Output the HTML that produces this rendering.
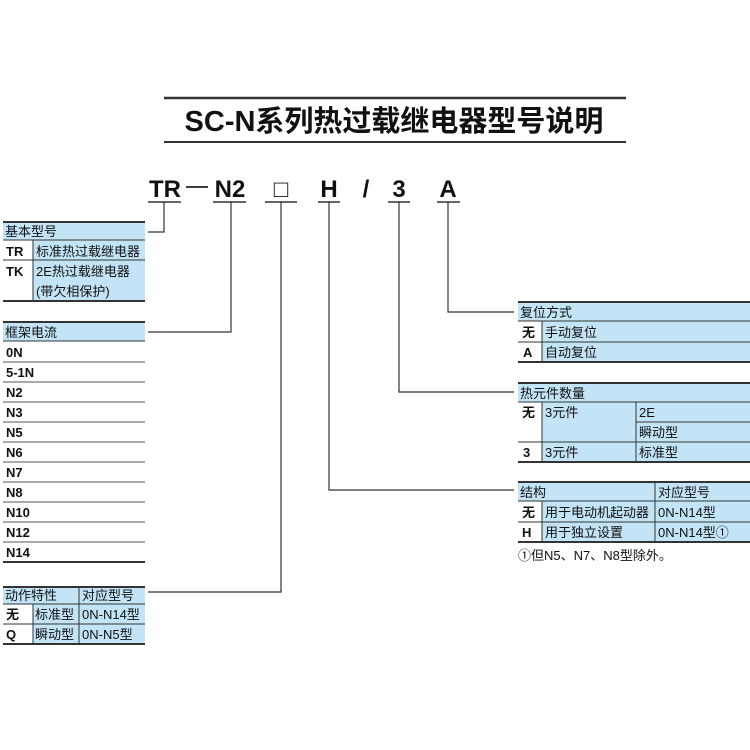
<!DOCTYPE html>
<html><head><meta charset="utf-8"><style>
html,body{margin:0;padding:0;background:#fff;width:750px;height:750px;overflow:hidden}
svg text{font-family:"Liberation Sans","Noto Sans CJK SC",sans-serif;fill:#111}
</style></head><body>
<svg width="750" height="750" viewBox="0 0 750 750" xmlns="http://www.w3.org/2000/svg">
<rect width="750" height="750" fill="#fff"/>
<!-- title -->
<line x1="164" y1="98" x2="626" y2="98" stroke="#333" stroke-width="2.5"/>
<line x1="164" y1="142" x2="626" y2="142" stroke="#333" stroke-width="2"/>
<text x="394" y="131" font-size="29" font-weight="bold" text-anchor="middle">SC-N系列热过载继电器型号说明</text>
<!-- code row -->
<g font-size="24" font-weight="bold" text-anchor="middle">
<text x="165" y="197">TR</text>
<text x="230" y="197">N2</text>
<text x="281" y="197" font-weight="normal">□</text>
<text x="329" y="197">H</text>
<text x="366" y="197">/</text>
<text x="399" y="197">3</text>
<text x="448" y="197">A</text>
</g>
<line x1="186" y1="187" x2="208" y2="187" stroke="#222" stroke-width="1.8"/>
<g stroke="#333" stroke-width="1.5">
<line x1="148" y1="202" x2="181" y2="202"/>
<line x1="213" y1="202" x2="246" y2="202"/>
<line x1="265" y1="202" x2="297" y2="202"/>
<line x1="318" y1="202" x2="340" y2="202"/>
<line x1="388" y1="202" x2="410" y2="202"/>
<line x1="437" y1="202" x2="460" y2="202"/>
</g>
<g stroke="#333" stroke-width="1.2" fill="none">
<polyline points="164,202 164,232 148,232"/>
<polyline points="231,202 231,332 148,332"/>
<polyline points="281,202 281,592 148,592"/>
<polyline points="329,202 329,490 514,490"/>
<polyline points="399,202 399,392 514,392"/>
<polyline points="448,202 448,312 514,312"/>
</g>

<!-- Box 1 -->
<rect x="3" y="222" width="142" height="18" fill="#c2e4f6"/>
<rect x="33" y="240" width="112" height="61" fill="#c2e4f6"/>
<g stroke="#333">
<line x1="3" y1="222" x2="145" y2="222" stroke-width="2"/>
<line x1="3" y1="240" x2="145" y2="240" stroke-width="1"/>
<line x1="3" y1="260" x2="145" y2="260" stroke-width="1"/>
<line x1="33" y1="240" x2="33" y2="301" stroke-width="1"/>
<line x1="3" y1="301" x2="145" y2="301" stroke-width="2"/>
</g>
<g font-size="13">
<text x="5" y="236">基本型号</text>
<text x="6" y="256" font-weight="bold">TR</text><text x="36" y="256">标准热过载继电器</text>
<text x="6" y="276" font-weight="bold">TK</text><text x="36" y="276">2E热过载继电器</text>
<text x="36" y="296">(带欠相保护)</text>
</g>

<!-- Box 2 -->
<rect x="3" y="322" width="142" height="19" fill="#c2e4f6"/>
<g stroke="#333">
<line x1="3" y1="322" x2="145" y2="322" stroke-width="2"/>
<line x1="3" y1="341" x2="145" y2="341" stroke-width="1"/>
</g>
<g stroke="#555" stroke-width="1">
<line x1="3" y1="362" x2="145" y2="362"/><line x1="3" y1="382" x2="145" y2="382"/>
<line x1="3" y1="402" x2="145" y2="402"/><line x1="3" y1="422" x2="145" y2="422"/>
<line x1="3" y1="442" x2="145" y2="442"/><line x1="3" y1="462" x2="145" y2="462"/>
<line x1="3" y1="482" x2="145" y2="482"/><line x1="3" y1="502" x2="145" y2="502"/>
<line x1="3" y1="522" x2="145" y2="522"/><line x1="3" y1="542" x2="145" y2="542"/>
</g>
<line x1="3" y1="562" x2="145" y2="562" stroke="#333" stroke-width="2"/>
<text x="5" y="337" font-size="13">框架电流</text>
<g font-size="13" font-weight="bold">
<text x="6" y="357">0N</text><text x="6" y="377">5-1N</text><text x="6" y="397">N2</text>
<text x="6" y="417">N3</text><text x="6" y="437">N5</text><text x="6" y="457">N6</text>
<text x="6" y="477">N7</text><text x="6" y="497">N8</text><text x="6" y="517">N10</text>
<text x="6" y="537">N12</text><text x="6" y="557">N14</text>
</g>

<!-- Box 3 -->
<rect x="3" y="587" width="142" height="17" fill="#c2e4f6"/>
<rect x="33" y="604" width="112" height="40" fill="#c2e4f6"/>
<g stroke="#333" stroke-width="1">
<line x1="3" y1="587" x2="145" y2="587" stroke-width="2"/>
<line x1="3" y1="604" x2="145" y2="604"/>
<line x1="3" y1="624" x2="145" y2="624"/>
<line x1="33" y1="604" x2="33" y2="644"/>
<line x1="79" y1="587" x2="79" y2="644"/>
<line x1="3" y1="644" x2="145" y2="644" stroke-width="2"/>
</g>
<g font-size="13">
<text x="5" y="600">动作特性</text><text x="82" y="600">对应型号</text>
<text x="6" y="619" font-weight="bold">无</text><text x="35" y="619">标准型</text><text x="82" y="619">0N-N14型</text>
<text x="6" y="639" font-weight="bold">Q</text><text x="35" y="639">瞬动型</text><text x="82" y="639">0N-N5型</text>
</g>

<!-- Right box A -->
<rect x="518" y="302" width="232" height="19" fill="#c2e4f6"/>
<rect x="542" y="321" width="208" height="41" fill="#c2e4f6"/>
<g stroke="#333" stroke-width="1">
<line x1="518" y1="302" x2="750" y2="302" stroke-width="2"/>
<line x1="518" y1="321" x2="750" y2="321"/>
<line x1="518" y1="342" x2="750" y2="342"/>
<line x1="542" y1="321" x2="542" y2="362"/>
<line x1="518" y1="362" x2="750" y2="362" stroke-width="2"/>
</g>
<g font-size="13">
<text x="520" y="317">复位方式</text>
<text x="522" y="337" font-weight="bold">无</text><text x="545" y="337">手动复位</text>
<text x="523" y="357" font-weight="bold">A</text><text x="545" y="357">自动复位</text>
</g>

<!-- Right box 3 -->
<rect x="518" y="383" width="232" height="19" fill="#c2e4f6"/>
<rect x="542" y="402" width="208" height="60" fill="#c2e4f6"/>
<g stroke="#333" stroke-width="1">
<line x1="518" y1="383" x2="750" y2="383" stroke-width="2"/>
<line x1="518" y1="402" x2="750" y2="402"/>
<line x1="636" y1="422" x2="750" y2="422"/>
<line x1="518" y1="442" x2="750" y2="442"/>
<line x1="542" y1="402" x2="542" y2="462"/>
<line x1="636" y1="402" x2="636" y2="462"/>
<line x1="518" y1="462" x2="750" y2="462" stroke-width="2"/>
</g>
<g font-size="13">
<text x="520" y="398">热元件数量</text>
<text x="522" y="417" font-weight="bold">无</text><text x="545" y="417">3元件</text><text x="639" y="417">2E</text>
<text x="639" y="437">瞬动型</text>
<text x="523" y="457" font-weight="bold">3</text><text x="545" y="457">3元件</text><text x="639" y="457">标准型</text>
</g>

<!-- Right box H -->
<rect x="518" y="482" width="232" height="19" fill="#c2e4f6"/>
<rect x="542" y="501" width="208" height="41" fill="#c2e4f6"/>
<g stroke="#333" stroke-width="1">
<line x1="518" y1="482" x2="750" y2="482" stroke-width="2"/>
<line x1="518" y1="501" x2="750" y2="501"/>
<line x1="518" y1="522" x2="750" y2="522"/>
<line x1="542" y1="501" x2="542" y2="542"/>
<line x1="655" y1="482" x2="655" y2="542"/>
<line x1="518" y1="542" x2="750" y2="542" stroke-width="2"/>
</g>
<g font-size="13">
<text x="520" y="497">结构</text><text x="658" y="497">对应型号</text>
<text x="522" y="517" font-weight="bold">无</text><text x="545" y="517">用于电动机起动器</text><text x="658" y="517">0N-N14型</text>
<text x="522" y="537" font-weight="bold">H</text><text x="545" y="537">用于独立设置</text><text x="658" y="537">0N-N14型①</text>
<text x="518" y="560">①但N5、N7、N8型除外。</text>
</g>
</svg>
</body></html>
